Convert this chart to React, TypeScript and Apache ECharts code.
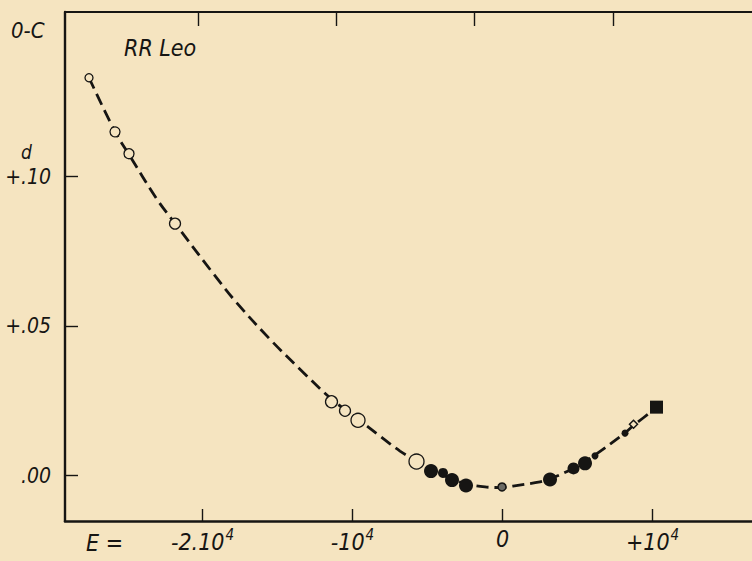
import React, { useEffect, useRef } from "react";
import * as echarts from "echarts";

// Epoch E (cycles) and O-C (days)
const openE = [-27567, -25833, -24900, -21833, -11400, -10500, -9633, -5733];
const openOC = [0.1331, 0.115, 0.1077, 0.0843, 0.0247, 0.0217, 0.0185, 0.0047];
const openSizes = [8, 10, 10, 11, 12, 11, 14, 15];

const filledE = [-4767, -3967, -3367, -2433, 3167, 4733, 5500, 6167, 8167];
const filledOC = [0.0015, 0.0009, -0.0015, -0.0033, -0.0013, 0.0024, 0.0041, 0.0066, 0.0142];
const filledSizes = [14, 10, 14, 14, 14, 12, 14, 7, 7];

const greyE = [-33];
const greyOC = [-0.0038];

const diamondE = [8733];
const diamondOC = [0.0172];

const squareE = [10267];
const squareOC = [0.0229];

// dashed fitted curve
const curveE = [
  -27567, -25833, -24900, -23033, -21833, -19300, -17700, -15500, -13300, -11400,
  -9633, -8167, -6833, -5733, -4767, -3367, -2433, -1167, -33, 700, 2500, 3167,
  4633, 6167, 8167, 8767, 10267,
];
const curveOC = [
  0.1331, 0.1151, 0.1074, 0.0924, 0.0844, 0.0677, 0.0577, 0.0456, 0.0346, 0.0256,
  0.0189, 0.0132, 0.0082, 0.0049, 0.002, -0.0011, -0.0028, -0.0038, -0.004, -0.0035,
  -0.0021, -0.0011, 0.0022, 0.0069, 0.0143, 0.0169, 0.0227,
];

const xTicks = [-20000, -10000, 0, 10000];
const xTickLabels = ["-2.10|4", "-10|4", "0", "+10|4"];
const yTicks = [0, 0.05, 0.1];
const yTickLabels = [".00", "+.05", "+.10"];
const topTicks = [0, 1, 2, 3];

const FONT = "'Liberation Sans Narrow', 'DejaVu Sans Condensed', 'Liberation Sans', sans-serif";
const INK = "#161513";
const PAPER = "#f5e4c0";

const zip = (a: number[], b: number[]) => a.map((v, i) => [v, b[i]]);

export default function App() {
  const ref = useRef<HTMLDivElement>(null);
  useEffect(() => {
    if (!ref.current) return;
    const chart = echarts.init(ref.current, undefined, { renderer: "svg" });
    const textBase = { fontFamily: FONT, fontStyle: "italic" as const, fill: INK };
    chart.setOption({
      animation: false,
      backgroundColor: PAPER,
      grid: {
        left: 65,
        right: 0,
        top: 12,
        bottom: 40,
        containLabel: false,
        outerBoundsMode: "none",
      },
      xAxis: [
        {
          type: "value",
          position: "bottom",
          min: -29167,
          max: 16633,
          splitLine: { show: false },
          axisLine: { show: true, onZero: false, lineStyle: { color: INK, width: 2.6 } },
          axisTick: {
            show: true,
            inside: true,
            length: 12,
            customValues: xTicks,
            lineStyle: { color: INK, width: 1.4 },
          },
          axisLabel: {
            show: true,
            customValues: xTicks,
            margin: 6,
            formatter: (v: number) => {
              const i = xTicks.indexOf(v);
              if (i < 0) return "";
              const [n, s] = xTickLabels[i].split("|");
              return s ? `{n|${n}}{s|${s}}` : `{n|${n}}`;
            },
            rich: {
              n: { fontFamily: FONT, fontStyle: "italic", fontSize: 23, color: INK },
              s: { fontFamily: FONT, fontStyle: "italic", fontSize: 15, color: INK, padding: [0, 0, 15, 1] },
            },
          },
        },
        {
          type: "value",
          position: "top",
          min: -0.962,
          max: 4.006,
          splitLine: { show: false },
          axisLine: { show: true, onZero: false, lineStyle: { color: INK, width: 2.2 } },
          axisTick: {
            show: true,
            inside: true,
            length: 14,
            customValues: topTicks,
            lineStyle: { color: INK, width: 1.4 },
          },
          axisLabel: { show: false },
        },
      ],
      yAxis: {
        type: "value",
        min: -0.01519,
        max: 0.1551,
        splitLine: { show: false },
        axisLine: { show: true, onZero: false, lineStyle: { color: INK, width: 2.4 } },
        axisTick: {
          show: true,
          inside: true,
          length: 13,
          customValues: yTicks,
          lineStyle: { color: INK, width: 1.4 },
        },
        axisLabel: {
          show: true,
          customValues: yTicks,
          margin: 14,
          fontFamily: FONT,
          fontStyle: "italic",
          fontSize: 21,
          color: INK,
          formatter: (v: number) => {
            const i = yTicks.findIndex((t) => Math.abs(t - v) < 1e-9);
            return i < 0 ? "" : yTickLabels[i];
          },
        },
      },
      graphic: [
        { type: "text", left: 11, top: 19, style: { ...textBase, text: "0-C", fontSize: 22 } },
        { type: "text", left: 21, top: 142, style: { ...textBase, text: "d", fontSize: 19 } },
        { type: "text", left: 124, top: 36, style: { ...textBase, text: "RR Leo", fontSize: 23 } },
        { type: "text", left: 86, top: 531, style: { ...textBase, text: "E =", fontSize: 23 } },
      ],
      series: [
        {
          type: "line",
          data: zip(curveE, curveOC),
          smooth: 0.35,
          symbol: "none",
          lineStyle: { color: INK, width: 2.8, type: [12, 6] },
          z: 1,
        },
        {
          type: "scatter",
          data: zip(openE, openOC),
          symbol: "circle",
          symbolSize: (_v: any, p: any) => openSizes[p.dataIndex],
          itemStyle: { color: PAPER, borderColor: INK, borderWidth: 1.3, opacity: 1 },
          z: 3,
        },
        {
          type: "scatter",
          data: zip(filledE, filledOC),
          symbol: "circle",
          symbolSize: (_v: any, p: any) => filledSizes[p.dataIndex],
          itemStyle: { color: INK, opacity: 1 },
          z: 3,
        },
        {
          type: "scatter",
          data: zip(greyE, greyOC),
          symbol: "circle",
          symbolSize: 8,
          itemStyle: { color: "#6b6a64", borderColor: INK, borderWidth: 1.5, opacity: 1 },
          z: 3,
        },
        {
          type: "scatter",
          data: zip(diamondE, diamondOC),
          symbol: "diamond",
          symbolSize: 8,
          itemStyle: { color: PAPER, borderColor: INK, borderWidth: 1.5, opacity: 1 },
          z: 3,
        },
        {
          type: "scatter",
          data: zip(squareE, squareOC),
          symbol: "rect",
          symbolSize: 13,
          itemStyle: { color: INK, opacity: 1 },
          z: 3,
        },
      ],
    });
    return () => chart.dispose();
  }, []);
  return (
    <div
      ref={ref}
      style={{ position: "fixed", left: 0, top: 0, width: 752, height: 561 }}
    />
  );
}
